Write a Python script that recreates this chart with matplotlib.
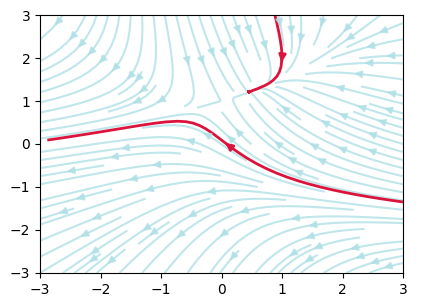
import numpy as np
import matplotlib
matplotlib.use("Agg")
import matplotlib.pyplot as plt

# grid and field (same kind of vector field as the mpl demo)
w = 3
Y, X = np.mgrid[-w:w:100j, -w:w:100j]
U = -1 - X**2 + Y
V = 1 + X - Y**2

# seeds for the highlighted streamlines
top_seed = [[1.0, 2.0]]
low_seed = [[-2.88, 0.09]]

fig, ax = plt.subplots(figsize=(4.26, 3.07), dpi=100)
fig.subplots_adjust(left=0.094, right=0.946, top=0.951, bottom=0.111)

# pale field
strm = ax.streamplot(X, Y, U, V, color="powderblue", linewidth=1.5, density=1.1)
strm.lines.set_alpha(0.8)
for p in list(ax.patches):
    p.set_alpha(0.8)
    p.set_zorder(3)  # arrow heads sit above the red lines

# highlighted streamlines
ax.streamplot(X, Y, U, V, color="crimson", linewidth=2,
              start_points=np.array(top_seed))
ax.streamplot(X, Y, U, V, color="crimson", linewidth=2,
              start_points=np.array(low_seed), integration_direction="backward")

ax.set_xlim(-w, w)
ax.set_ylim(-w, w)

fig.savefig("out.png")
